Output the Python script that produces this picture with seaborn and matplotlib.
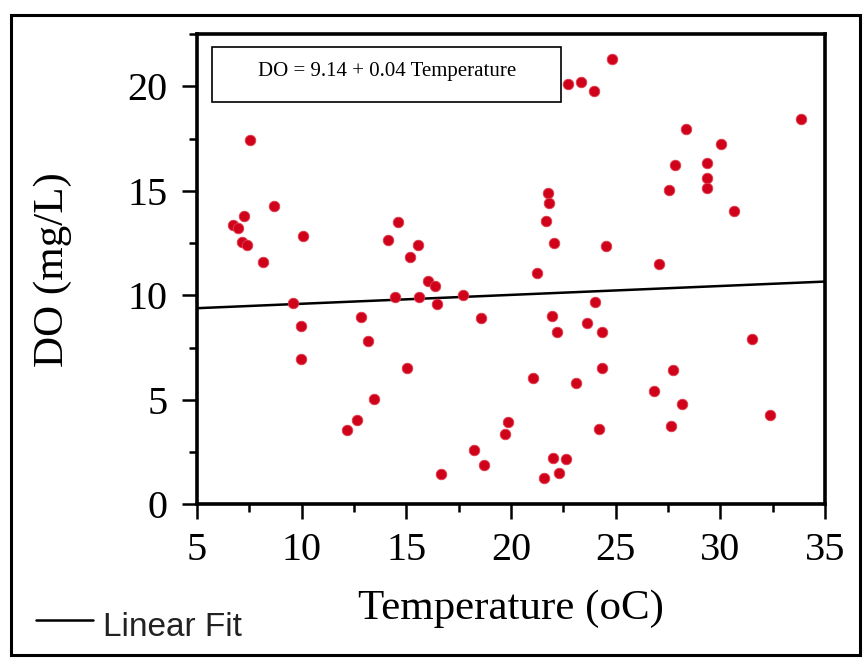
import numpy as np
import pandas as pd
import matplotlib.pyplot as plt
import seaborn as sns
from matplotlib.patches import Rectangle
from matplotlib.lines import Line2D
from matplotlib.ticker import MultipleLocator

# readings taken from the reference scatter
temperature = [7.53, 8.66, 7.26, 6.73, 6.96, 7.16, 7.37, 8.15, 10.05, 14.62,
               14.14, 15.54, 15.20, 16.06, 16.35, 9.58, 9.98, 9.98, 14.47, 15.63,
               16.49, 17.73, 12.83, 13.15, 18.57, 15.05, 13.47, 12.66, 12.15, 18.23,
               18.72, 16.65, 19.85, 19.72, 24.85, 22.74, 23.36, 23.96, 33.85, 28.37,
               30.04, 27.86, 29.35, 29.35, 29.35, 27.54, 30.67, 21.79, 21.83, 21.69,
               22.04, 24.52, 27.08, 21.23, 24.03, 21.98, 23.65, 22.18, 24.35, 31.51,
               24.36, 27.73, 21.05, 23.12, 26.85, 28.19, 32.37, 27.63, 24.19, 22.03,
               22.63, 22.32, 21.58]
do_mgl = [17.43, 14.30, 13.80, 13.35, 13.20, 12.56, 12.43, 11.60, 12.84, 13.50,
          12.67, 12.43, 11.82, 10.67, 10.44, 9.62, 8.54, 6.97, 9.90, 9.92,
          9.57, 10.03, 8.94, 7.83, 8.90, 6.52, 5.05, 4.02, 3.54, 2.60,
          1.87, 1.44, 3.94, 3.38, 21.30, 20.13, 20.22, 19.78, 18.46, 17.95,
          17.25, 16.24, 16.33, 15.62, 15.14, 15.03, 14.05, 14.89, 14.41, 13.56,
          12.51, 12.37, 11.51, 11.08, 9.67, 9.03, 8.65, 8.22, 8.22, 7.90,
          6.54, 6.41, 6.03, 5.82, 5.44, 4.81, 4.25, 3.73, 3.62, 2.19,
          2.16, 1.49, 1.27]

fit_intercept = 9.17
fit_slope = 0.0425
fit_range = [5, 35]
equation = "DO = 9.14 + 0.04 Temperature"

df = pd.DataFrame({"Temperature": temperature, "DO": do_mgl})
fit = pd.DataFrame({"Temperature": fit_range})
fit["DO"] = fit_intercept + fit_slope * fit["Temperature"]

sns.set_style("ticks")
plt.rcParams["font.family"] = ["Liberation Serif", "DejaVu Serif"]
plt.rcParams["text.color"] = "black"
plt.rcParams["axes.labelcolor"] = "black"
plt.rcParams["axes.edgecolor"] = "black"
plt.rcParams["xtick.color"] = "black"
plt.rcParams["ytick.color"] = "black"

fig = plt.figure(figsize=(8.66, 6.59), dpi=100)
fig.patches.append(Rectangle((0.0125, 0.006), 0.98, 0.971, transform=fig.transFigure,
                             fill=False, edgecolor="black", linewidth=2.2))
ax = fig.add_axes([0.2275, 0.235, 0.725, 0.713])

sns.lineplot(data=fit, x="Temperature", y="DO", color="black", linewidth=1.8, ax=ax)
sns.scatterplot(data=df, x="Temperature", y="DO", color="#d0021b", s=58,
                edgecolor="#e04050", linewidth=0.6, ax=ax, zorder=3)

ax.set_xlim(5, 35)
ax.set_ylim(0, 22.5)
ax.xaxis.set_major_locator(MultipleLocator(5))
ax.xaxis.set_minor_locator(MultipleLocator(2.5))
ax.yaxis.set_major_locator(MultipleLocator(5))
ax.yaxis.set_minor_locator(MultipleLocator(2.5))
ax.tick_params(which="major", length=11, width=1.8, labelsize=29)
ax.tick_params(axis="x", which="major", pad=9)
ax.tick_params(axis="y", which="major", pad=10)
ax.tick_params(which="minor", length=6, width=1.8)
for sp in ax.spines.values():
    sp.set_linewidth(2.6)

ax.set_xlabel("Temperature (oC)", fontsize=31, labelpad=15)
ax.set_ylabel("DO (mg/L)", fontsize=31, labelpad=40)

ax.add_patch(Rectangle((0.024, 0.855), 0.556, 0.118, transform=ax.transAxes,
                       facecolor="white", edgecolor="black", linewidth=1.2, zorder=4))
ax.text(0.302, 0.92, equation, transform=ax.transAxes, fontsize=15,
        ha="center", va="center", zorder=5)

fig.lines.append(Line2D([0.042, 0.107], [0.059, 0.059], transform=fig.transFigure,
                        color="black", linewidth=1.8))
fig.text(0.119, 0.048, "Linear Fit", fontsize=24, family=["Liberation Sans", "DejaVu Sans"],
         color="#222222", va="center", ha="left")

fig.savefig("out.png", dpi=100)
